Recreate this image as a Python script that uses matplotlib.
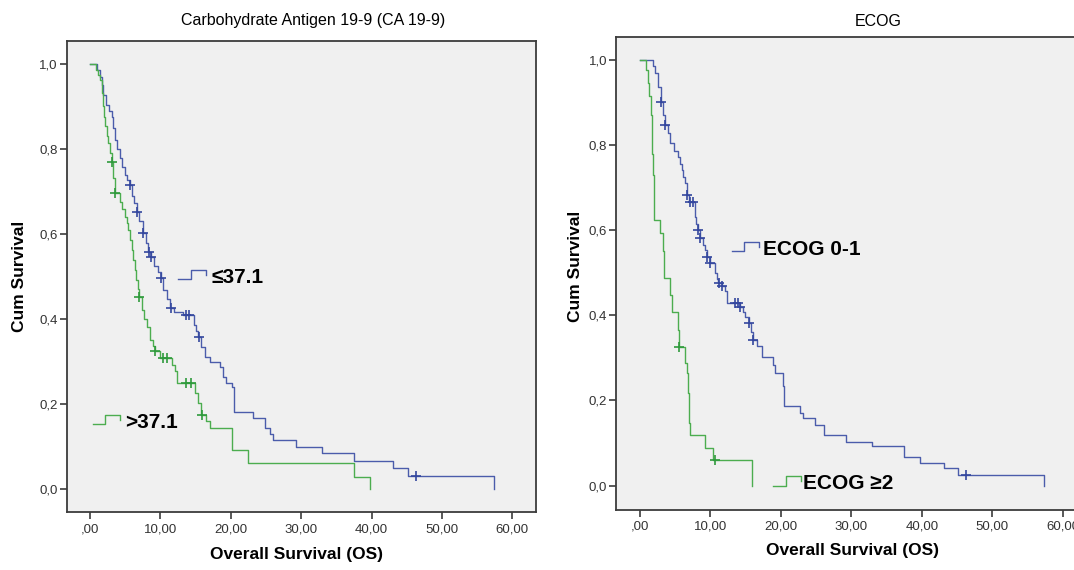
import numpy as np
import matplotlib.pyplot as plt

plt.rcParams['font.family'] = ['Liberation Sans', 'DejaVu Sans']

# Kaplan-Meier steps: time (months) and survival after the step
ca_low_t = [0, 1.0, 1.4, 1.7, 1.9, 2.3, 2.7, 3.1, 3.3, 3.55, 3.9, 4.26, 4.6, 4.97, 5.3, 5.68,
            6.0, 6.3, 6.63, 7.0, 7.48, 7.9, 8.28, 8.62, 9.1, 9.6, 10.04, 10.4, 10.9, 11.4, 12.0,
            13.2, 14.7, 15.1, 15.4, 15.8, 16.3, 17.0, 18.5, 18.9, 19.3, 20.1, 20.4, 23.1, 24.9,
            25.5, 26.0, 29.3, 33.0, 37.5, 43.1, 45.2, 57.4]
ca_low_s = [1.0, 0.985, 0.970, 0.950, 0.927, 0.904, 0.890, 0.876, 0.850, 0.821, 0.800, 0.778,
            0.758, 0.739, 0.727, 0.715, 0.690, 0.672, 0.653, 0.630, 0.602, 0.580, 0.559, 0.547,
            0.525, 0.510, 0.496, 0.469, 0.448, 0.426, 0.418, 0.410, 0.386, 0.372, 0.359, 0.335,
            0.312, 0.300, 0.288, 0.265, 0.249, 0.241, 0.182, 0.167, 0.143, 0.130, 0.116, 0.100,
            0.085, 0.067, 0.049, 0.032, 0.0]
ca_low_cens = [5.75, 6.7, 7.55, 8.35, 8.7, 10.1, 11.5, 13.7, 14.1, 15.45, 46.3]

ca_high_t = [0, 0.9, 1.2, 1.42, 1.66, 1.89, 2.0, 2.13, 2.4, 2.6, 2.85, 3.08, 3.3, 3.55, 4.26,
             4.6, 4.97, 5.2, 5.45, 5.7, 5.92, 6.15, 6.39, 6.6, 6.8, 6.9, 7.34, 7.7, 8.05, 8.52,
             8.9, 9.23, 9.9, 11.6, 12.1, 12.3, 14.9, 15.4, 15.8, 16.5, 17.0, 20.1, 22.5, 37.5, 39.8]
ca_high_s = [1.0, 0.985, 0.975, 0.962, 0.931, 0.900, 0.876, 0.853, 0.830, 0.814, 0.790, 0.770,
             0.733, 0.696, 0.676, 0.660, 0.641, 0.625, 0.610, 0.587, 0.563, 0.540, 0.516, 0.492,
             0.470, 0.453, 0.422, 0.400, 0.382, 0.351, 0.338, 0.324, 0.308, 0.293, 0.277, 0.249,
             0.226, 0.202, 0.175, 0.160, 0.143, 0.092, 0.061, 0.030, 0.0]
ca_high_cens = [3.15, 3.6, 7.0, 9.3, 10.4, 11.0, 13.6, 14.4, 15.95]

ecog01_t = [0, 1.9, 2.13, 2.6, 2.98, 3.3, 3.55, 4.02, 4.26, 4.83, 5.44, 5.7, 5.92, 6.15, 6.39,
            6.63, 7.0, 7.8, 8.0, 8.18, 8.5, 8.9, 9.2, 9.5, 9.9, 10.6, 10.9, 11.1, 11.6, 12.1,
            12.3, 14.2, 14.6, 14.9, 15.4, 15.7, 16.0, 16.6, 17.3, 18.9, 19.2, 20.3, 20.4, 22.7,
            23.2, 24.8, 26.1, 29.3, 32.9, 37.5, 39.7, 43.1, 45.2, 57.4]
ecog01_s = [1.0, 0.985, 0.969, 0.937, 0.902, 0.870, 0.847, 0.828, 0.804, 0.785, 0.773, 0.755,
            0.742, 0.725, 0.710, 0.683, 0.667, 0.632, 0.615, 0.601, 0.581, 0.565, 0.554, 0.538,
            0.524, 0.499, 0.485, 0.475, 0.469, 0.456, 0.428, 0.420, 0.409, 0.397, 0.381, 0.360,
            0.342, 0.327, 0.303, 0.284, 0.264, 0.233, 0.186, 0.170, 0.158, 0.143, 0.119, 0.103,
            0.093, 0.068, 0.053, 0.041, 0.025, 0.0]
ecog01_cens = [3.0, 3.6, 6.65, 7.05, 7.5, 8.22, 8.55, 9.55, 9.95, 11.15, 11.65, 13.5, 13.9,
               14.25, 15.45, 16.05, 46.2]

ecog2_t = [0, 0.85, 1.1, 1.32, 1.5, 1.66, 1.75, 1.85, 2.0, 2.9, 3.2, 3.35, 4.3, 4.6, 5.45,
           5.55, 6.39, 6.72, 6.86, 7.0, 7.1, 9.23, 10.4, 15.9]
ecog2_s = [1.0, 0.976, 0.945, 0.914, 0.870, 0.836, 0.780, 0.730, 0.623, 0.593, 0.550, 0.487,
           0.448, 0.409, 0.366, 0.325, 0.288, 0.264, 0.217, 0.147, 0.119, 0.088, 0.060, 0.0]
ecog2_cens = [5.6, 10.6]

x_ticks = [0, 10, 20, 30, 40, 50, 60]
x_labels = [',00', '10,00', '20,00', '30,00', '40,00', '50,00', '60,00']
y_ticks = [0.0, 0.2, 0.4, 0.6, 0.8, 1.0]
y_labels = ['0,0', '0,2', '0,4', '0,6', '0,8', '1,0']

BLUE = '#4b5cab'
BLUE_MARK = '#34479e'
GREEN = '#4cad4f'
GREEN_MARK = '#2f9a3c'
AX_BG = '#f0f0f0'
EDGE = '#3c3c3c'

# step glyph used by the in-plot labels (data units)
GLYPH_X = [0, 1.8, 1.8, 3.9, 3.9]
GLYPH_Y = [0, 0, 0.022, 0.022, 0.010]


def km_curve(ax, t, s, cens, color, mcolor):
    t = np.asarray(t)
    s = np.asarray(s)
    ax.step(t, s, where='post', color=color, lw=1.0)
    idx = np.searchsorted(t, cens, side='right') - 1
    ax.plot(cens, s[idx], ls='none', marker='+', ms=7, mew=1.2, color=mcolor)


def label_glyph(ax, x0, y0, color, text, tx):
    ax.plot(np.array(GLYPH_X) + x0, np.array(GLYPH_Y) + y0, color=color, lw=1.0)
    ax.text(tx, y0 + 0.004, text, fontsize=15, fontweight='bold', va='center', ha='left',
            color='black')


def style_axes(ax, xlim, ylim):
    ax.set_facecolor(AX_BG)
    ax.set_xlim(*xlim)
    ax.set_ylim(*ylim)
    ax.set_xticks(x_ticks)
    ax.set_xticklabels(x_labels)
    ax.set_yticks(y_ticks)
    ax.set_yticklabels(y_labels)
    for sp in ax.spines.values():
        sp.set_color(EDGE)
        sp.set_linewidth(1.3)
    ax.tick_params(axis='both', direction='out', length=5, width=1.2, color=EDGE,
                   labelsize=9.5, labelcolor='#333333')
    ax.tick_params(axis='y', pad=1.5)
    ax.tick_params(axis='x', pad=3)


fig = plt.figure(figsize=(10.74, 5.70), dpi=100)

ax1 = fig.add_axes([66.5 / 1074, 1 - 512 / 570, 469.5 / 1074, 471 / 570])
style_axes(ax1, (-3.34, 63.35), (-0.0534, 1.054))
km_curve(ax1, ca_low_t, ca_low_s, ca_low_cens, BLUE, BLUE_MARK)
km_curve(ax1, ca_high_t, ca_high_s, ca_high_cens, GREEN, GREEN_MARK)
label_glyph(ax1, 12.54, 0.494, BLUE, '≤37.1', 17.3)
label_glyph(ax1, 0.38, 0.153, GREEN, '>37.1', 4.97)

ax2 = fig.add_axes([616 / 1074, 1 - 509.5 / 570, 470 / 1074, 472.2 / 570])
style_axes(ax2, (-3.41, 63.3), (-0.056, 1.053))
km_curve(ax2, ecog01_t, ecog01_s, ecog01_cens, BLUE, BLUE_MARK)
km_curve(ax2, ecog2_t, ecog2_s, ecog2_cens, GREEN, GREEN_MARK)
label_glyph(ax2, 13.0, 0.550, BLUE, 'ECOG 0-1', 17.5)
label_glyph(ax2, 18.9, 0.0, GREEN, 'ECOG ≥2', 23.2)

title_font = dict(fontsize=11.5, ha='center', va='center',
                  family=['Liberation Sans Narrow', 'Liberation Sans', 'DejaVu Sans'])
fig.text(313 / 1074, 1 - 20 / 570, 'Carbohydrate Antigen 19-9 (CA 19-9)', **title_font)
fig.text(878 / 1074, 1 - 22 / 570, 'ECOG', **title_font)

lab = dict(fontsize=12.5, fontweight='bold', ha='center', va='center')
fig.text(20 / 1074, 1 - 276 / 570, 'Cum Survival', rotation=90, **lab)
fig.text(575 / 1074, 1 - 266 / 570, 'Cum Survival', rotation=90, **lab)
fig.text(296 / 1074, 1 - 555 / 570, 'Overall Survival (OS)', **lab)
fig.text(852 / 1074, 1 - 550 / 570, 'Overall Survival (OS)', **lab)

fig.savefig('out.png', dpi=100, facecolor='white')
